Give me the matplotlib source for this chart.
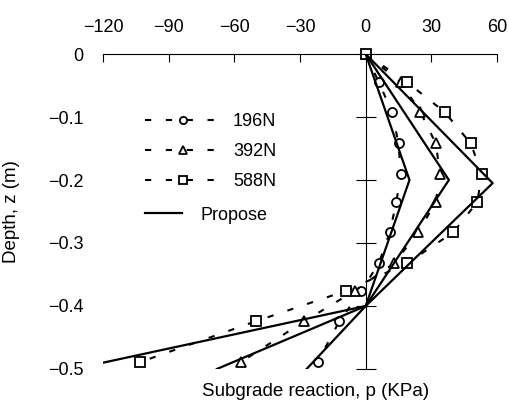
import matplotlib.pyplot as plt

plt.rcParams['font.family'] = ['Liberation Sans', 'DejaVu Sans']

# measured subgrade reaction (KPa) against depth (m)
depth = [0, -0.045, -0.092, -0.142, -0.19, -0.235, -0.283, -0.332, -0.376, -0.424, -0.489]
p196 = [0, 6, 12, 15, 16, 14, 11, 6, -2, -12, -22]
p392 = [0, 16, 25, 32, 34, 32, 24, 13, -5, -28, -57]
p588 = [0, 19, 36, 48, 53, 51, 40, 19, -9, -50, -103]

# proposed model lines
prop_depth = [0, -0.2, -0.4, -0.5]
prop196 = [0, 20, 0, -27]
prop392 = [0, 38, 0, -68]
prop588_depth = [0, -0.205, -0.4, -0.49]
prop588 = [0, 58, 0, -120]

labels = ['196N', '392N', '588N']
markers = ['o', '^', 's']

fig = plt.figure(figsize=(5.09, 4.11), dpi=100)
ax = fig.add_axes([0.2024, 0.1022, 0.7741, 0.7664])

handles = []
for p, m, lab in zip([p196, p392, p588], markers, labels):
    h, = ax.plot(p, depth, color='k', lw=1.5, linestyle='--', dashes=(3, 7),
                 marker=m, ms=6.5, mfc='white', mec='k', mew=1.3, label=lab, clip_on=False)
    handles.append(h)

hp, = ax.plot(prop196, prop_depth, color='k', lw=1.6, label='Propose')
ax.plot(prop392, prop_depth, color='k', lw=1.6)
ax.plot(prop588, prop588_depth, color='k', lw=1.6)

ax.set_xlim(-120, 60)
ax.set_ylim(-0.5, 0)

# axes look: top x axis, y axis line through p = 0
ax.spines['right'].set_visible(False)
ax.spines['bottom'].set_visible(False)
ax.spines['left'].set_position(('data', 0))
ax.xaxis.tick_top()
ax.set_xticks([-120, -90, -60, -30, 0, 30, 60])
ax.set_xticklabels(['\u2212120', '\u221290', '\u221260', '\u221230', '0', '30', '60'])
ax.tick_params(axis='x', direction='in', length=6, pad=13, labelsize=13)

yticks = [0, -0.1, -0.2, -0.3, -0.4, -0.5]
ax.set_yticks(yticks)
ax.tick_params(axis='y', direction='inout', length=14, labelleft=False)

sec = ax.secondary_yaxis('left')
sec.set_yticks(yticks, labels=['0', '\u22120.1', '\u22120.2', '\u22120.3', '\u22120.4', '\u22120.5'])
sec.spines['left'].set_visible(False)
sec.tick_params(length=0, pad=14, labelsize=13)

ax.set_ylabel('Depth, z (m)', fontsize=13.5)
ax.yaxis.set_label_coords(-0.21, 0.5)
ax.set_xlabel('Subgrade reaction, p (KPa)', fontsize=13.5)
ax.xaxis.set_label_position('bottom')
ax.xaxis.set_label_coords(0.54, -0.045)

leg1 = ax.legend(handles=handles, loc='upper left', bbox_to_anchor=(0.285, 0.725),
                 bbox_transform=fig.transFigure, frameon=False, fontsize=13,
                 handlelength=4.2, handletextpad=0.67, labelspacing=0.72,
                 borderpad=0, borderaxespad=0, markerscale=0.8)
ax.add_artist(leg1)
ax.legend(handles=[hp], loc='upper left', bbox_to_anchor=(0.285, 0.497),
          bbox_transform=fig.transFigure, frameon=False, fontsize=13,
          handlelength=2.05, handletextpad=1.0, borderpad=0, borderaxespad=0)

fig.savefig('out.png', dpi=100)
